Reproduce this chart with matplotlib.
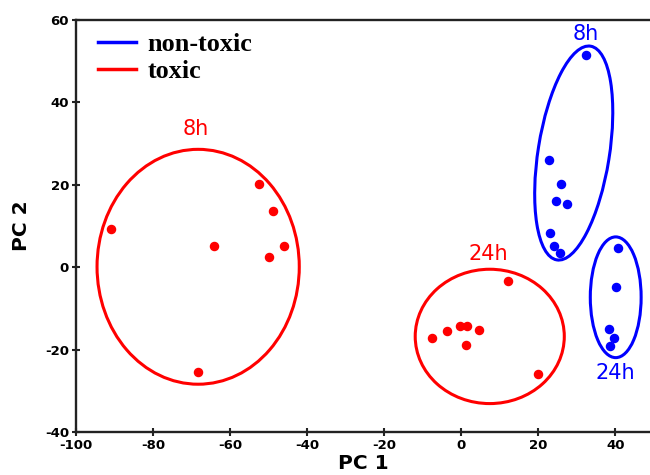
import matplotlib.pyplot as plt
from matplotlib.patches import Ellipse
from matplotlib.lines import Line2D

plt.rcParams["axes.unicode_minus"] = False

# toxic, 8h
tox8_x = [-91.0, -64.2, -52.5, -48.8, -50.0, -46.0, -68.3]
tox8_y = [9.2, 5.2, 20.1, 13.6, 2.5, 5.2, -25.4]
# toxic, 24h
tox24_x = [-7.5, -3.6, -0.3, 1.5, 4.5, 1.3, 12.2, 19.9]
tox24_y = [-17.1, -15.5, -14.3, -14.3, -15.3, -18.8, -3.4, -26.0]
# non-toxic, 8h
non8_x = [32.5, 22.9, 26.0, 24.6, 27.5, 23.0, 24.0, 25.7]
non8_y = [51.5, 26.0, 20.1, 16.1, 15.3, 8.4, 5.1, 3.5]
# non-toxic, 24h
non24_x = [40.7, 40.3, 38.3, 39.6, 38.7]
non24_y = [4.6, -4.8, -15.1, -17.3, -19.1]

# group ellipses: center x, center y, width, height, angle
ell_tox8 = (-68.3, 0.1, 52.5, 57.0, 0)
ell_tox24 = (7.4, -16.8, 38.7, 32.6, 0)
ell_non8 = (29.2, 27.7, 18.5, 52.6, -9.7)
ell_non24 = (40.1, -7.3, 13.2, 29.3, 0)

red = "#ff0000"
blue = "#0000ff"

fig = plt.figure(figsize=(6.5, 4.75), dpi=100)
ax = fig.add_axes([0.117, 0.0905, 0.883, 0.8675])

ax.scatter(tox8_x, tox8_y, s=34, color=red, zorder=3)
ax.scatter(tox24_x, tox24_y, s=34, color=red, zorder=3)
ax.scatter(non8_x, non8_y, s=34, color=blue, zorder=3)
ax.scatter(non24_x, non24_y, s=34, color=blue, zorder=3)

for e, c in [(ell_tox8, red), (ell_tox24, red), (ell_non8, blue), (ell_non24, blue)]:
    ax.add_patch(Ellipse((e[0], e[1]), e[2], e[3], angle=e[4],
                         fill=False, edgecolor=c, lw=2.2))

ax.text(-69, 33.5, "8h", color=red, fontsize=15, ha="center", va="center")
ax.text(7, 3.3, "24h", color=red, fontsize=15, ha="center", va="center")
ax.text(32.4, 56.6, "8h", color=blue, fontsize=15, ha="center", va="center")
ax.text(40, -25.8, "24h", color=blue, fontsize=15, ha="center", va="center")

ax.set_xlim(-100, 49)
ax.set_ylim(-40, 60)
ax.set_xticks(range(-100, 41, 20))
ax.set_yticks(range(-40, 61, 20))
for lab in ax.get_xticklabels() + ax.get_yticklabels():
    lab.set_fontweight("bold")
ax.tick_params(labelsize=9.5, direction="inout", length=6, width=1.5,
               color="#222222", pad=2)

ax.spines["right"].set_visible(False)
for s in ["left", "bottom", "top"]:
    ax.spines[s].set_linewidth(1.7)
    ax.spines[s].set_color("#222222")

ax.set_xlabel("PC 1", fontsize=14.5, fontweight="bold", labelpad=1.5)
ax.set_ylabel("PC 2", fontsize=14.5, fontweight="bold", labelpad=10)

handles = [Line2D([], [], color=blue, lw=2.5), Line2D([], [], color=red, lw=2.5)]
ax.legend(handles, ["non-toxic", "toxic"], loc="upper left", frameon=False,
          prop={"family": "Liberation Serif", "weight": "bold", "size": 18.8},
          handlelength=1.46, handletextpad=0.42, labelspacing=0.12,
          borderaxespad=0.1, bbox_to_anchor=(0.016, 1.0))

fig.savefig("out.png", dpi=100)
